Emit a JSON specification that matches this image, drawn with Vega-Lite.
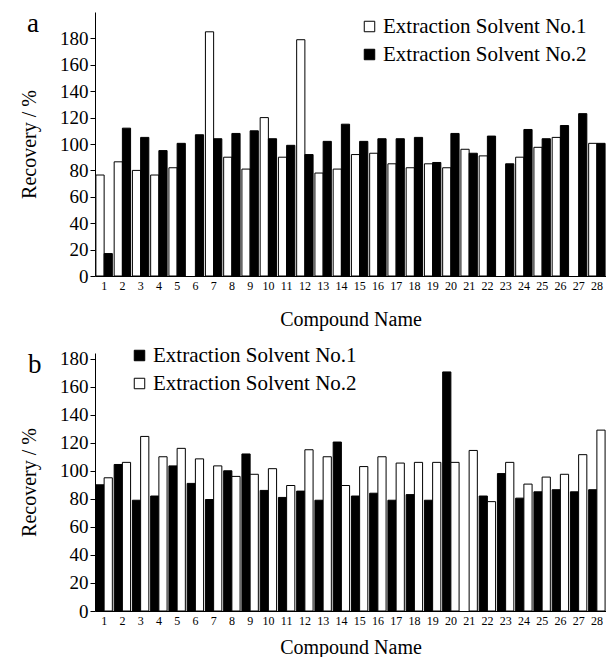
{
  "$schema": "https://vega.github.io/schema/vega-lite/v6.json",
  "padding": {"left": 19, "top": 10, "right": 0, "bottom": 0},
  "spacing": 16,
  "config": {
    "font": "Liberation Serif",
    "view": {"stroke": null},
    "axis": {"grid": false, "domainColor": "#000", "tickColor": "#000", "labelColor": "#000", "titleColor": "#000", "labelFont": "Liberation Serif", "titleFont": "Liberation Serif", "titleFontWeight": "normal"},
    "legend": {"labelFont": "Liberation Serif", "labelFontSize": 21, "labelColor": "#000", "labelLimit": 0, "symbolType": "square", "symbolSize": 110, "symbolStrokeColor": "#000", "symbolStrokeWidth": 1, "symbolOpacity": 1, "rowPadding": 6, "labelOffset": 3, "title": null},
    "title": {"font": "Liberation Serif", "fontWeight": "normal", "color": "#000", "fontSize": 27}
  },
  "datasets": {
    "a": [
      {"compound": 1, "solvent": "Extraction Solvent No.1", "recovery": 76.5},
      {"compound": 1, "solvent": "Extraction Solvent No.2", "recovery": 17},
      {"compound": 2, "solvent": "Extraction Solvent No.1", "recovery": 86.5},
      {"compound": 2, "solvent": "Extraction Solvent No.2", "recovery": 112},
      {"compound": 3, "solvent": "Extraction Solvent No.1", "recovery": 80},
      {"compound": 3, "solvent": "Extraction Solvent No.2", "recovery": 105},
      {"compound": 4, "solvent": "Extraction Solvent No.1", "recovery": 76.5},
      {"compound": 4, "solvent": "Extraction Solvent No.2", "recovery": 95},
      {"compound": 5, "solvent": "Extraction Solvent No.1", "recovery": 82},
      {"compound": 5, "solvent": "Extraction Solvent No.2", "recovery": 100.5},
      {"compound": 6, "solvent": "Extraction Solvent No.2", "recovery": 107},
      {"compound": 7, "solvent": "Extraction Solvent No.1", "recovery": 185},
      {"compound": 7, "solvent": "Extraction Solvent No.2", "recovery": 104},
      {"compound": 8, "solvent": "Extraction Solvent No.1", "recovery": 90},
      {"compound": 8, "solvent": "Extraction Solvent No.2", "recovery": 108},
      {"compound": 9, "solvent": "Extraction Solvent No.1", "recovery": 81},
      {"compound": 9, "solvent": "Extraction Solvent No.2", "recovery": 110},
      {"compound": 10, "solvent": "Extraction Solvent No.1", "recovery": 120},
      {"compound": 10, "solvent": "Extraction Solvent No.2", "recovery": 104},
      {"compound": 11, "solvent": "Extraction Solvent No.1", "recovery": 90},
      {"compound": 11, "solvent": "Extraction Solvent No.2", "recovery": 99},
      {"compound": 12, "solvent": "Extraction Solvent No.1", "recovery": 179},
      {"compound": 12, "solvent": "Extraction Solvent No.2", "recovery": 92},
      {"compound": 13, "solvent": "Extraction Solvent No.1", "recovery": 78},
      {"compound": 13, "solvent": "Extraction Solvent No.2", "recovery": 102},
      {"compound": 14, "solvent": "Extraction Solvent No.1", "recovery": 81},
      {"compound": 14, "solvent": "Extraction Solvent No.2", "recovery": 115},
      {"compound": 15, "solvent": "Extraction Solvent No.1", "recovery": 92},
      {"compound": 15, "solvent": "Extraction Solvent No.2", "recovery": 102},
      {"compound": 16, "solvent": "Extraction Solvent No.1", "recovery": 93},
      {"compound": 16, "solvent": "Extraction Solvent No.2", "recovery": 104},
      {"compound": 17, "solvent": "Extraction Solvent No.1", "recovery": 85},
      {"compound": 17, "solvent": "Extraction Solvent No.2", "recovery": 104},
      {"compound": 18, "solvent": "Extraction Solvent No.1", "recovery": 82},
      {"compound": 18, "solvent": "Extraction Solvent No.2", "recovery": 105},
      {"compound": 19, "solvent": "Extraction Solvent No.1", "recovery": 85},
      {"compound": 19, "solvent": "Extraction Solvent No.2", "recovery": 86},
      {"compound": 20, "solvent": "Extraction Solvent No.1", "recovery": 82},
      {"compound": 20, "solvent": "Extraction Solvent No.2", "recovery": 108},
      {"compound": 21, "solvent": "Extraction Solvent No.1", "recovery": 96},
      {"compound": 21, "solvent": "Extraction Solvent No.2", "recovery": 93},
      {"compound": 22, "solvent": "Extraction Solvent No.1", "recovery": 91},
      {"compound": 22, "solvent": "Extraction Solvent No.2", "recovery": 106},
      {"compound": 23, "solvent": "Extraction Solvent No.2", "recovery": 85},
      {"compound": 24, "solvent": "Extraction Solvent No.1", "recovery": 90},
      {"compound": 24, "solvent": "Extraction Solvent No.2", "recovery": 111},
      {"compound": 25, "solvent": "Extraction Solvent No.1", "recovery": 97.5},
      {"compound": 25, "solvent": "Extraction Solvent No.2", "recovery": 104},
      {"compound": 26, "solvent": "Extraction Solvent No.1", "recovery": 105},
      {"compound": 26, "solvent": "Extraction Solvent No.2", "recovery": 114},
      {"compound": 27, "solvent": "Extraction Solvent No.2", "recovery": 123},
      {"compound": 28, "solvent": "Extraction Solvent No.1", "recovery": 100.5},
      {"compound": 28, "solvent": "Extraction Solvent No.2", "recovery": 100.5}
    ],
    "b": [
      {"compound": 1, "solvent": "Extraction Solvent No.1", "recovery": 90},
      {"compound": 1, "solvent": "Extraction Solvent No.2", "recovery": 95},
      {"compound": 2, "solvent": "Extraction Solvent No.1", "recovery": 104.5},
      {"compound": 2, "solvent": "Extraction Solvent No.2", "recovery": 106},
      {"compound": 3, "solvent": "Extraction Solvent No.1", "recovery": 79},
      {"compound": 3, "solvent": "Extraction Solvent No.2", "recovery": 124.5},
      {"compound": 4, "solvent": "Extraction Solvent No.1", "recovery": 82},
      {"compound": 4, "solvent": "Extraction Solvent No.2", "recovery": 110},
      {"compound": 5, "solvent": "Extraction Solvent No.1", "recovery": 103.5},
      {"compound": 5, "solvent": "Extraction Solvent No.2", "recovery": 116},
      {"compound": 6, "solvent": "Extraction Solvent No.1", "recovery": 91},
      {"compound": 6, "solvent": "Extraction Solvent No.2", "recovery": 108.5},
      {"compound": 7, "solvent": "Extraction Solvent No.1", "recovery": 79.5},
      {"compound": 7, "solvent": "Extraction Solvent No.2", "recovery": 103.5},
      {"compound": 8, "solvent": "Extraction Solvent No.1", "recovery": 100},
      {"compound": 8, "solvent": "Extraction Solvent No.2", "recovery": 96},
      {"compound": 9, "solvent": "Extraction Solvent No.1", "recovery": 112},
      {"compound": 9, "solvent": "Extraction Solvent No.2", "recovery": 97.5},
      {"compound": 10, "solvent": "Extraction Solvent No.1", "recovery": 86},
      {"compound": 10, "solvent": "Extraction Solvent No.2", "recovery": 101.5},
      {"compound": 11, "solvent": "Extraction Solvent No.1", "recovery": 81},
      {"compound": 11, "solvent": "Extraction Solvent No.2", "recovery": 89.5},
      {"compound": 12, "solvent": "Extraction Solvent No.1", "recovery": 85.5},
      {"compound": 12, "solvent": "Extraction Solvent No.2", "recovery": 115},
      {"compound": 13, "solvent": "Extraction Solvent No.1", "recovery": 79},
      {"compound": 13, "solvent": "Extraction Solvent No.2", "recovery": 110},
      {"compound": 14, "solvent": "Extraction Solvent No.1", "recovery": 120.5},
      {"compound": 14, "solvent": "Extraction Solvent No.2", "recovery": 89.5},
      {"compound": 15, "solvent": "Extraction Solvent No.1", "recovery": 82},
      {"compound": 15, "solvent": "Extraction Solvent No.2", "recovery": 103},
      {"compound": 16, "solvent": "Extraction Solvent No.1", "recovery": 84},
      {"compound": 16, "solvent": "Extraction Solvent No.2", "recovery": 110},
      {"compound": 17, "solvent": "Extraction Solvent No.1", "recovery": 79},
      {"compound": 17, "solvent": "Extraction Solvent No.2", "recovery": 105.5},
      {"compound": 18, "solvent": "Extraction Solvent No.1", "recovery": 83},
      {"compound": 18, "solvent": "Extraction Solvent No.2", "recovery": 106},
      {"compound": 19, "solvent": "Extraction Solvent No.1", "recovery": 79},
      {"compound": 19, "solvent": "Extraction Solvent No.2", "recovery": 106},
      {"compound": 20, "solvent": "Extraction Solvent No.1", "recovery": 170.5},
      {"compound": 20, "solvent": "Extraction Solvent No.2", "recovery": 106},
      {"compound": 21, "solvent": "Extraction Solvent No.2", "recovery": 114.5},
      {"compound": 22, "solvent": "Extraction Solvent No.1", "recovery": 82},
      {"compound": 22, "solvent": "Extraction Solvent No.2", "recovery": 78},
      {"compound": 23, "solvent": "Extraction Solvent No.1", "recovery": 98},
      {"compound": 23, "solvent": "Extraction Solvent No.2", "recovery": 106},
      {"compound": 24, "solvent": "Extraction Solvent No.1", "recovery": 80.5},
      {"compound": 24, "solvent": "Extraction Solvent No.2", "recovery": 90.5},
      {"compound": 25, "solvent": "Extraction Solvent No.1", "recovery": 85},
      {"compound": 25, "solvent": "Extraction Solvent No.2", "recovery": 95.5},
      {"compound": 26, "solvent": "Extraction Solvent No.1", "recovery": 86.5},
      {"compound": 26, "solvent": "Extraction Solvent No.2", "recovery": 97.5},
      {"compound": 27, "solvent": "Extraction Solvent No.1", "recovery": 85},
      {"compound": 27, "solvent": "Extraction Solvent No.2", "recovery": 111.5},
      {"compound": 28, "solvent": "Extraction Solvent No.1", "recovery": 86.5},
      {"compound": 28, "solvent": "Extraction Solvent No.2", "recovery": 129}
    ]
  },
  "vconcat": [
    {
      "width": 511,
      "height": 264,
      "title": {"text": "a", "anchor": "start", "frame": "group", "dx": -68, "dy": 30},
      "data": {"name": "a"},
      "mark": {"type": "bar", "stroke": "#000", "strokeWidth": 1},
      "encoding": {
        "x": {"field": "compound", "type": "ordinal", "scale": {"paddingInner": 0.1, "paddingOuter": 0.05},
              "axis": {"title": "Compound Name", "labelAngle": 0, "ticks": false, "labelFontSize": 12, "labelPadding": 4, "titleFontSize": 20, "titlePadding": 18}},
        "xOffset": {"field": "solvent", "type": "nominal"},
        "y": {"field": "recovery", "type": "quantitative", "scale": {"domain": [0, 200]},
              "axis": {"values": [0, 20, 40, 60, 80, 100, 120, 140, 160, 180], "title": "Recovery / %", "labelFontSize": 19, "titleFontSize": 20, "tickSize": 5, "labelPadding": 2, "titlePadding": 20}},
        "fill": {"field": "solvent", "type": "nominal",
                 "scale": {"domain": ["Extraction Solvent No.1", "Extraction Solvent No.2"], "range": ["#ffffff", "#000000"]},
                 "legend": {"orient": "none", "legendX": 264, "legendY": 4}}
      }
    },
    {
      "width": 511,
      "height": 258,
      "title": {"text": "b", "anchor": "start", "frame": "group", "dx": -67, "dy": 38},
      "data": {"name": "b"},
      "mark": {"type": "bar", "stroke": "#000", "strokeWidth": 1},
      "encoding": {
        "x": {"field": "compound", "type": "ordinal", "scale": {"paddingInner": 0.1, "paddingOuter": 0.05},
              "axis": {"title": "Compound Name", "labelAngle": 0, "ticks": false, "labelFontSize": 12, "labelPadding": 4, "titleFontSize": 20, "titlePadding": 11}},
        "xOffset": {"field": "solvent", "type": "nominal"},
        "y": {"field": "recovery", "type": "quantitative", "scale": {"domain": [0, 184]},
              "axis": {"values": [0, 20, 40, 60, 80, 100, 120, 140, 160, 180], "title": "Recovery / %", "labelFontSize": 19, "titleFontSize": 20, "tickSize": 5, "labelPadding": 2, "titlePadding": 20}},
        "fill": {"field": "solvent", "type": "nominal",
                 "scale": {"domain": ["Extraction Solvent No.1", "Extraction Solvent No.2"], "range": ["#000000", "#ffffff"]},
                 "legend": {"orient": "none", "legendX": 34, "legendY": -8}}
      }
    }
  ],
  "resolve": {"scale": {"fill": "independent"}, "legend": {"fill": "independent"}}
}
